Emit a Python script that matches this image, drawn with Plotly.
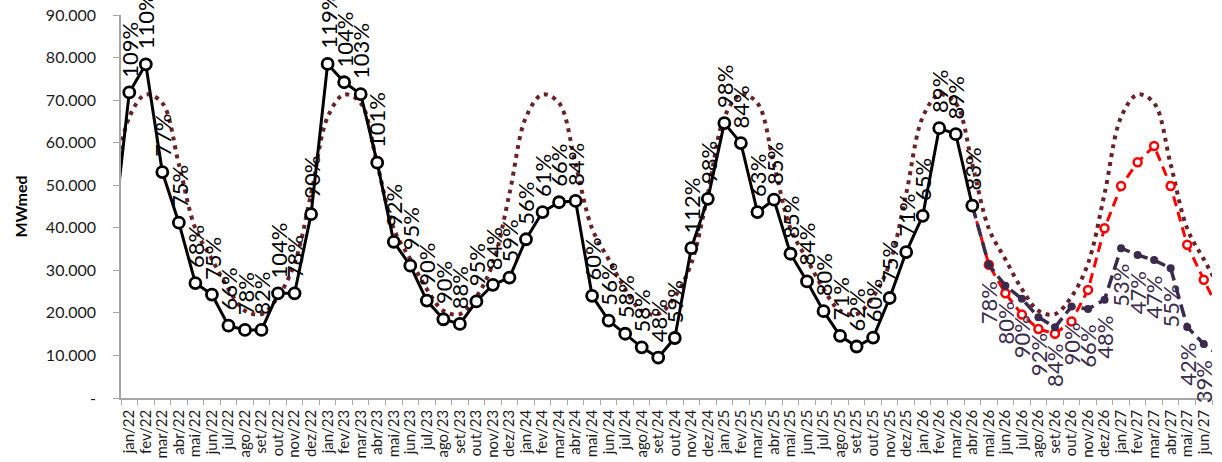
import plotly.graph_objects as go

# ---------------- data ----------------
month_abbr = ["jan", "fev", "mar", "abr", "mai", "jun", "jul", "ago", "set", "out", "nov", "dez"]
months = ["dez/21"] + [f"{m}/{y}" for y in ["22", "23", "24", "25", "26"] for m in month_abbr] + \
         [f"{m}/27" for m in month_abbr[:7]]          # dez/21 .. jul/27 (edges are clipped)

# verified history (MWmed), dez/21 .. abr/26
verified = [37000,
            71800, 78400, 53100, 41200, 27000, 24300, 17000, 16000, 16000, 24600, 24600, 43200,
            78500, 74200, 71400, 55300, 36700, 31100, 22900, 18500, 17400, 22700, 26600, 28300,
            37300, 43700, 46000, 46300, 24000, 18200, 15100, 11900, 9500, 14100, 35200, 46800,
            64600, 59900, 43700, 46600, 33900, 27400, 20400, 14600, 12100, 14200, 23500, 34300,
            42800, 63400, 62000, 45200]
verified_pct = ["109%", "110%", "77%", "75%", "68%", "75%", "66%", "78%", "82%", "104%", "78%", "90%",
                "119%", "104%", "103%", "101%", "92%", "95%", "90%", "90%", "88%", "95%", "84%", "59%",
                "56%", "61%", "66%", "84%", "60%", "56%", "58%", "58%", "48%", "59%", "112%", "98%",
                "98%", "84%", "63%", "85%", "85%", "84%", "80%", "71%", "62%", "60%", "75%", "71%",
                "65%", "89%", "89%", "83%"]

# long-term average (MLT), dez/21 .. jul/27
mlt = [48000,
       66000, 71300, 69300, 54900, 39800, 32600, 25600, 20500, 19700, 23800, 31600, 48000,
       66000, 71300, 69300, 54900, 39800, 32600, 25600, 20500, 19700, 23800, 31600, 48000,
       66000, 71300, 69300, 54900, 39800, 32600, 25600, 20500, 19700, 23800, 31600, 48000,
       66000, 71300, 69300, 54900, 39800, 32600, 25600, 20500, 19700, 23800, 31600, 48000,
       66000, 71300, 69300, 54900, 39800, 32600, 25600, 20500, 19700, 23800, 31600, 48000,
       66000, 71300, 69300, 54900, 39800, 32600, 25600]

# scenarios abr/26 .. jul/27
scen_red = [45200, 31300, 24600, 19600, 16200, 15100, 18000, 25400, 39900,
            49800, 55400, 59200, 49800, 36000, 27800, 20000]
scen_dark = [45200, 31300, 26400, 23300, 19000, 16600, 21500, 20900, 23100,
             35200, 33600, 32400, 30500, 16700, 12700, 9800]
scen_dark_pct = ["78%", "80%", "90%", "92%", "84%", "90%", "66%", "48%",
                 "53%", "47%", "47%", "55%", "42%", "39%"]

y_tickvals = [0, 10000, 20000, 30000, 40000, 50000, 60000, 70000, 80000, 90000]
y_ticktext = ["-", "10.000", "20.000", "30.000", "40.000", "50.000", "60.000", "70.000", "80.000", "90.000"]

# ---------------- figure ----------------
FONT = "Lato"
LBL_SIZE = 22
C_MLT = "#6B2226"
C_DARK = "#3A2B4D"
C_RED = "#FF0000"
C_AXIS = "#A6A6A6"

x_ver = months[:len(verified)]
x_scen = months[len(verified) - 1:]


def label_len(t):
    # approximate rendered length of a rotated label (digits + percent sign)
    return LBL_SIZE * (0.58 * (len(t) - 1) + 0.80)


fig = go.Figure()

fig.add_trace(go.Scatter(
    x=months, y=mlt, mode="lines",
    line=dict(color=C_MLT, width=4, dash="4px,5px", shape="spline", smoothing=1.0),
    hoverinfo="skip"))

fig.add_trace(go.Scatter(
    x=x_scen, y=scen_red, mode="lines+markers",
    line=dict(color=C_RED, width=3, dash="10px,6px"),
    marker=dict(symbol="circle", size=8, color="white", line=dict(color=C_RED, width=2.5))))

fig.add_trace(go.Scatter(
    x=x_scen, y=scen_dark, mode="lines+markers",
    line=dict(color=C_DARK, width=3.5, dash="13px,6px"),
    marker=dict(symbol="circle", size=8, color=C_DARK)))

fig.add_trace(go.Scatter(
    x=x_ver, y=verified, mode="lines+markers",
    line=dict(color="black", width=3),
    marker=dict(symbol="circle", size=11, color="white", line=dict(color="black", width=2.8))))

annotations = []
for xm, yv, t in zip(x_ver[1:], verified[1:], verified_pct):
    annotations.append(dict(
        x=xm, y=yv, xref="x", yref="y", text=t, showarrow=False, textangle=-90,
        xanchor="center", yanchor="middle", yshift=15 + label_len(t) / 2,
        font=dict(family=FONT, size=LBL_SIZE, color="black")))
for xm, yv, t in zip(x_scen[1:], scen_dark[1:], scen_dark_pct):
    annotations.append(dict(
        x=xm, y=yv, xref="x", yref="y", text=t, showarrow=False, textangle=-90,
        xanchor="center", yanchor="middle", yshift=-(16 + label_len(t) / 2),
        font=dict(family=FONT, size=LBL_SIZE, color=C_DARK)))

fig.update_layout(
    width=1222, height=462,
    margin=dict(l=121, r=10, t=15, b=64, pad=0),
    paper_bgcolor="white", plot_bgcolor="white",
    showlegend=False,
    font=dict(family=FONT, color="#262626"),
    annotations=annotations,
    xaxis=dict(
        type="category", categoryorder="array", categoryarray=months,
        range=[0.5, len(months) - 1.5], automargin=False,
        tickmode="linear", tick0=0, dtick=1,
        tickson="boundaries", ticks="outside", ticklen=5, tickcolor=C_AXIS, tickwidth=1,
        showline=True, linecolor=C_AXIS, linewidth=1.5, showgrid=False, zeroline=False,
        tickangle=-90, tickfont=dict(family=FONT, size=15, color="#1a1a1a"),
        ticklabelstandoff=4,
    ),
    yaxis=dict(
        range=[0, 90000], tickvals=y_tickvals, ticktext=y_ticktext, automargin=False,
        ticks="outside", ticklen=6, tickcolor=C_AXIS, tickwidth=1,
        showline=True, linecolor=C_AXIS, linewidth=1.5, showgrid=False, zeroline=False,
        tickfont=dict(family=FONT, size=16, color="#1a1a1a"),
        ticklabelstandoff=14,
        title=dict(text="<b>MWmed</b>", font=dict(family=FONT, size=16, color="black"), standoff=14),
    ),
)

fig.write_html("out.html", post_script="document.body.style.margin='0';document.body.style.overflow='hidden';",
               config={"displayModeBar": False})
